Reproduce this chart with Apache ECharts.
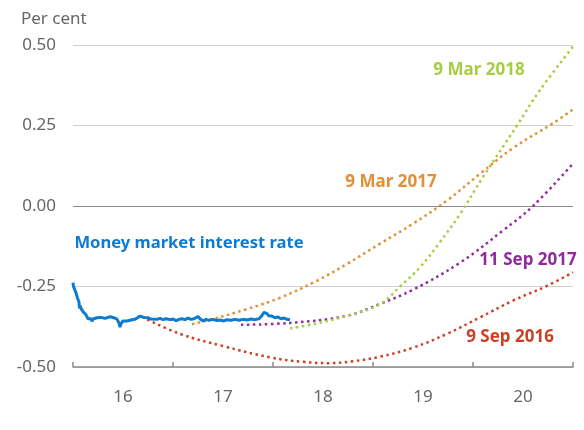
<!DOCTYPE html>
<html>
<head>
<meta charset="utf-8">
<script src="https://cdn.jsdelivr.net/npm/echarts@6/dist/echarts.min.js"></script>
<style>
  html, body { margin: 0; padding: 0; background: #fff; }
  #chart { width: 584px; height: 430px; }
</style>
</head>
<body>
<div id="chart"></div>
<script>
// x values are decimal years
var moneyMarket = [
  [2016.00, -0.238], [2016.005, -0.250], [2016.01, -0.246], [2016.02, -0.262],
  [2016.025, -0.258], [2016.03, -0.270], [2016.04, -0.281], [2016.045, -0.276],
  [2016.05, -0.290], [2016.06, -0.299], [2016.065, -0.318], [2016.07, -0.309],
  [2016.08, -0.318], [2016.09, -0.322], [2016.10, -0.328], [2016.11, -0.324],
  [2016.12, -0.333], [2016.13, -0.338], [2016.14, -0.342], [2016.15, -0.350],
  [2016.16, -0.346], [2016.17, -0.354], [2016.18, -0.350], [2016.19, -0.358],
  [2016.20, -0.351], [2016.22, -0.348], [2016.24, -0.347], [2016.26, -0.351],
  [2016.28, -0.346], [2016.30, -0.345], [2016.32, -0.349], [2016.34, -0.346],
  [2016.37, -0.344], [2016.40, -0.346], [2016.42, -0.349], [2016.44, -0.351],
  [2016.45, -0.352], [2016.46, -0.364], [2016.47, -0.376], [2016.48, -0.366],
  [2016.49, -0.361], [2016.50, -0.357], [2016.52, -0.354], [2016.54, -0.357],
  [2016.56, -0.352], [2016.58, -0.354], [2016.60, -0.349], [2016.62, -0.352],
  [2016.64, -0.351], [2016.67, -0.342], [2016.69, -0.348], [2016.71, -0.346],
  [2016.73, -0.350], [2016.75, -0.347], [2016.78, -0.351], [2016.80, -0.349],
  [2016.84, -0.352], [2016.87, -0.349], [2016.90, -0.353], [2016.93, -0.350],
  [2016.97, -0.353], [2017.00, -0.351], [2017.03, -0.356], [2017.06, -0.352],
  [2017.09, -0.350], [2017.12, -0.353], [2017.15, -0.348], [2017.18, -0.352],
  [2017.21, -0.350], [2017.25, -0.343], [2017.27, -0.350], [2017.30, -0.357],
  [2017.33, -0.352], [2017.36, -0.355], [2017.40, -0.352], [2017.44, -0.356],
  [2017.47, -0.354], [2017.51, -0.357], [2017.54, -0.353], [2017.58, -0.355],
  [2017.62, -0.352], [2017.66, -0.355], [2017.70, -0.352], [2017.74, -0.354],
  [2017.78, -0.351], [2017.82, -0.353], [2017.86, -0.350], [2017.88, -0.347],
  [2017.89, -0.340], [2017.91, -0.330], [2017.92, -0.336], [2017.94, -0.334],
  [2017.96, -0.342], [2017.99, -0.342], [2018.02, -0.347], [2018.05, -0.345],
  [2018.08, -0.350], [2018.11, -0.348], [2018.14, -0.352], [2018.17, -0.353]
];

var curveSep2016 = [
  [2016.69, -0.344], [2017.07, -0.397], [2017.50, -0.435], [2017.97, -0.470],
  [2018.30, -0.484], [2018.57, -0.488], [2018.80, -0.482], [2019.07, -0.468],
  [2019.40, -0.440], [2019.74, -0.397], [2020.07, -0.346], [2020.40, -0.294],
  [2020.74, -0.248], [2021.00, -0.206]
];

var curveMar2017 = [
  [2017.19, -0.367], [2017.40, -0.351], [2017.74, -0.320], [2018.07, -0.285],
  [2018.44, -0.232], [2018.75, -0.178], [2019.07, -0.117], [2019.40, -0.055],
  [2019.74, 0.017], [2020.07, 0.100], [2020.40, 0.180], [2020.79, 0.255],
  [2021.00, 0.300]
];

var curveSep2017 = [
  [2017.68, -0.369], [2018.17, -0.363], [2018.74, -0.341], [2019.07, -0.304],
  [2019.40, -0.260], [2019.87, -0.176], [2020.30, -0.076], [2020.60, 0.000],
  [2021.00, 0.132]
];

var curveMar2018 = [
  [2018.17, -0.380], [2018.40, -0.367], [2018.74, -0.341], [2019.07, -0.305],
  [2019.27, -0.250], [2019.47, -0.190], [2019.67, -0.112], [2019.87, -0.025],
  [2020.10, 0.090], [2020.44, 0.250], [2020.67, 0.360], [2021.00, 0.495]
];

var yearLabels = { '2016.5': '16', '2017.5': '17', '2018.5': '18', '2019.5': '19', '2020.5': '20' };

var font = 'Noto Sans';
var colors = {
  blue: '#0c7bd0',
  red: '#cc4126',
  orange: '#e28f37',
  purple: '#932a9c',
  green: '#a7cd45'
};

function dotted(name, data, color) {
  return {
    name: name,
    type: 'line',
    data: data,
    smooth: 0.4,
    showSymbol: false,
    silent: true,
    lineStyle: { color: color, width: 2.5, type: [2.5, 3.5] },
    z: 2
  };
}

var chart = echarts.init(document.getElementById('chart'));
chart.setOption({
  animation: false,
  grid: { left: 73, right: 11, top: 45, bottom: 63 },
  xAxis: [{
    type: 'value', min: 2016, max: 2021, interval: 1,
    axisLine: { onZero: false, lineStyle: { color: '#8a8a8a', width: 1.5 } },
    axisTick: { inside: true, length: 5, lineStyle: { color: '#8a8a8a', width: 1.5 } },
    axisLabel: { show: false },
    splitLine: { show: false }
  }, {
    type: 'value', min: 2016, max: 2021, interval: 0.5, position: 'bottom',
    axisLine: { show: false }, axisTick: { show: false }, splitLine: { show: false },
    axisLabel: {
      margin: 22, color: '#666', fontFamily: font, fontSize: 17,
      formatter: function (v) { return yearLabels[v.toFixed(1)] || ''; }
    }
  }],
  yAxis: {
    type: 'value', min: -0.5, max: 0.5, interval: 0.25,
    axisLine: { show: false }, axisTick: { show: false },
    axisLabel: {
      margin: 17, color: '#666', fontFamily: font, fontSize: 17,
      formatter: function (v) { return v.toFixed(2); }
    },
    splitLine: { lineStyle: { color: ['#cfcfcf', '#cfcfcf', '#8a8a8a', '#cfcfcf', '#cfcfcf'], width: 1.2 } }
  },
  series: [
    dotted('9 Sep 2016', curveSep2016, colors.red),
    dotted('9 Mar 2017', curveMar2017, colors.orange),
    dotted('11 Sep 2017', curveSep2017, colors.purple),
    dotted('9 Mar 2018', curveMar2018, colors.green),
    {
      name: 'Money market interest rate',
      type: 'line',
      data: moneyMarket,
      showSymbol: false,
      silent: true,
      lineStyle: { color: colors.blue, width: 3 },
      z: 3
    }
  ],
  graphic: [
    { type: 'text', left: 21, top: 11, style: { text: 'Per cent', fill: '#666', font: '17px "Noto Sans"' } },
    { type: 'text', x: 479, y: 70, style: { text: '9 Mar 2018', fill: colors.green, font: 'bold 17px "Noto Sans"', align: 'center', verticalAlign: 'middle' } },
    { type: 'text', x: 391, y: 182, style: { text: '9 Mar 2017', fill: colors.orange, font: 'bold 17px "Noto Sans"', align: 'center', verticalAlign: 'middle' } },
    { type: 'text', x: 528, y: 260, style: { text: '11 Sep 2017', fill: colors.purple, font: 'bold 17px "Noto Sans"', align: 'center', verticalAlign: 'middle' } },
    { type: 'text', x: 510, y: 337, style: { text: '9 Sep 2016', fill: colors.red, font: 'bold 17px "Noto Sans"', align: 'center', verticalAlign: 'middle' } },
    { type: 'text', x: 189, y: 243, style: { text: 'Money market interest rate', fill: colors.blue, font: 'bold 16.6px "Noto Sans"', align: 'center', verticalAlign: 'middle' } }
  ]
});
</script>
</body>
</html>
